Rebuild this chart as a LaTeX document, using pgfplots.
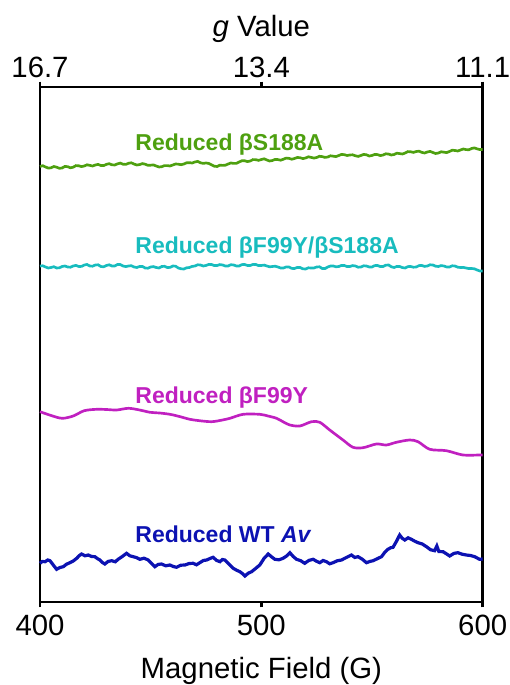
\documentclass[border=0pt]{standalone}
\usepackage{pgfplots}
\pgfplotsset{compat=1.18}
\usepackage{fontspec}
\setmainfont{Liberation Sans}
\definecolor{cgreen}{RGB}{78,160,16}
\definecolor{ccyan}{RGB}{24,188,190}
\definecolor{cmag}{RGB}{192,32,192}
\definecolor{cblue}{RGB}{12,18,178}
\begin{document}
\begin{tikzpicture}
\useasboundingbox (-30pt,-62.25pt) rectangle (352.25pt,451.5pt);
\begin{axis}[
  scale only axis, width=332pt, height=386.25pt,
  xmin=400, xmax=600, ymin=0, ymax=515,
  axis line style={line width=2pt},
  xtick={400,500,600}, ytick=\empty,
  tick align=outside, major tick length=4pt,
  every tick/.style={black, line width=2pt},
  xtick pos=bottom,
  /pgf/number format/assume math mode=true,
  ticklabel style={font=\fontsize{22}{26}\selectfont},
  xticklabel style={anchor=base, yshift=-20.75pt},
  xlabel={Magnetic Field (G)},
  xlabel style={font=\fontsize{22}{26}\selectfont, at={(axis description cs:0.5,0)}, anchor=base, yshift=-57pt},
  clip=false,
]
\addplot[cgreen, line width=2pt] coordinates {
(400,435.5)(401.25,436.3)(402.5,435.0)(403.75,433.9)(405,434.2)(406.25,435.5)(407.5,434.8)(408.75,433.7)(410,434.0)(411.25,435.6)
(412.5,435.3)(413.75,434.2)(415,434.8)(416.25,436.4)(417.5,436.2)(418.75,435.4)(420,436.0)(421.25,437.2)(422.5,436.6)(423.75,436.0)
(425,437.0)(426.25,437.6)(427.5,436.5)(428.75,436.4)(430,437.6)(431.25,438.3)(432.5,437.2)(433.75,437.0)(435,438.1)(436.25,438.9)
(437.5,437.8)(438.75,437.6)(440,438.7)(441.25,439.2)(442.5,437.9)(443.75,437.0)(445,437.4)(446.25,438.4)(447.5,437.8)(448.75,436.7)
(450,436.8)(451.25,437.1)(452.5,436.0)(453.75,435.0)(455,435.3)(456.25,436.4)(457.5,436.4)(458.75,436.0)(460,437.0)(461.25,438.0)
(462.5,437.8)(463.75,437.3)(465,438.0)(466.25,439.2)(467.5,439.3)(468.75,439.0)(470,440.0)(471.25,440.6)(472.5,439.2)(473.75,438.6)
(475,439.0)(476.25,438.6)(477.5,437.2)(478.75,435.8)(480,435.5)(481.25,436.8)(482.5,436.6)(483.75,436.8)(485,438.0)(486.25,439.0)
(487.5,438.6)(488.75,438.6)(490,440.0)(491.25,441.3)(492.5,441.2)(493.75,440.4)(495,441.0)(496.25,442.4)(497.5,442.3)(498.75,441.6)
(500,442.5)(501.25,443.2)(502.5,442.0)(503.75,441.0)(505,441.5)(506.25,442.6)(507.5,442.4)(508.75,441.8)(510,442.8)(511.25,443.9)
(512.5,443.6)(513.75,442.8)(515,443.5)(516.25,444.5)(517.5,444.3)(518.75,443.4)(520,444.0)(521.25,445.2)(522.5,444.6)(523.75,443.9)
(525,444.5)(526.25,445.7)(527.5,445.4)(528.75,444.6)(530,445.0)(531.25,446.2)(532.5,445.8)(533.75,445.4)(535,446.5)(536.25,447.6)
(537.5,447.3)(538.75,446.5)(540,447.0)(541.25,447.2)(542.5,446.2)(543.75,445.6)(545,446.5)(546.25,447.6)(547.5,447.2)(548.75,446.0)
(550,446.5)(551.25,447.6)(552.5,447.4)(553.75,446.4)(555,447.0)(556.25,448.2)(557.5,447.9)(558.75,447.0)(560,447.5)(561.25,448.8)
(562.5,448.4)(563.75,448.0)(565,449.0)(566.25,450.4)(567.5,450.2)(568.75,449.6)(570,450.5)(571.25,450.8)(572.5,449.6)(573.75,449.0)
(575,450.0)(576.25,450.6)(577.5,449.5)(578.75,448.5)(580,449.0)(581.25,450.2)(582.5,449.8)(583.75,449.4)(585,450.5)(586.25,451.8)
(587.5,451.5)(588.75,451.0)(590,452.0)(591.25,453.0)(592.5,452.4)(593.75,452.2)(595,453.5)(596.25,454.1)(597.5,453.1)(598.75,452.4)(600,452.5)
};
\addplot[ccyan, line width=2pt] coordinates {
(400,336)(401.25,336.2)(402.5,335)(403.75,334.0)(405,334.5)(406.25,335.3)(407.5,334)(408.75,334.2)(410,335.5)(411.25,336.0)
(412.5,335)(413.75,334.8)(415,336)(416.25,336.6)(417.5,335.5)(418.75,335.6)(420,337)(421.25,337.5)(422.5,336)(423.75,335.8)
(425,337)(426.25,337.2)(427.5,335.5)(428.75,335.2)(430,336.5)(431.25,337.2)(432.5,336)(433.75,336.0)(435,337.5)(436.25,337.5)
(437.5,336)(438.75,335.4)(440,336)(441.25,336.3)(442.5,335)(443.75,334.5)(445,335.5)(446.25,335.6)(447.5,334)(448.75,333.8)
(450,335)(451.25,335.4)(452.5,334.5)(453.75,334.0)(455,335.5)(456.25,335.7)(457.5,334.5)(458.75,334.6)(460,336)(461.25,335.8)
(462.5,334)(463.75,333.2)(465,333)(466.25,334.2)(467.5,334.5)(468.75,335.6)(470,336)(471.25,337.2)(472.5,337)(473.75,336.0)
(475,336.5)(476.25,337.6)(477.5,337.5)(478.75,336.4)(480,336.5)(481.25,337.4)(482.5,337)(483.75,336.0)(485,336)(486.25,337.3)
(487.5,337)(488.75,336.0)(490,336)(491.25,337.4)(492.5,337.5)(493.75,336.5)(495,336.5)(496.25,337.6)(497.5,337.5)(498.75,336.4)
(500,336.5)(501.25,336.9)(502.5,336)(503.75,335.2)(505,335.5)(506.25,335.8)(507.5,335)(508.75,334.0)(510,334)(511.25,335.1)
(512.5,335)(513.75,333.6)(515,333.5)(516.25,334.6)(517.5,334.5)(518.75,333.2)(520,333)(521.25,334.2)(522.5,334)(523.75,334.0)
(525,335)(526.25,335.2)(527.5,333.5)(528.75,333.4)(530,335)(531.25,336.0)(532.5,336)(533.75,335.2)(535,335.5)(536.25,336.6)
(537.5,336.5)(538.75,335.4)(540,335.5)(541.25,336.4)(542.5,336)(543.75,334.8)(545,335)(546.25,336.2)(547.5,336)(548.75,335.0)
(550,335)(551.25,336.4)(552.5,336.5)(553.75,335.4)(555,335.5)(556.25,336.8)(557.5,337)(558.75,335.2)(560,334.5)(561.25,335.6)
(562.5,335.5)(563.75,334.4)(565,334)(566.25,335.4)(567.5,335.5)(568.75,334.8)(570,335)(571.25,336.4)(572.5,336.5)(573.75,335.6)
(575,336)(576.25,337.2)(577.5,337)(578.75,335.8)(580,335.5)(581.25,336.4)(582.5,336)(583.75,335.0)(585,335)(586.25,336.2)
(587.5,336)(588.75,334.8)(590,334.5)(591.25,334.6)(592.5,334)(593.75,333.4)(595,333.5)(596.25,333.2)(597.5,332)(598.75,331.0)(600,331)
};
\addplot[cmag, line width=2pt, smooth] coordinates {
(400,190.3)(405,186.5)(410,183.7)(415,186)(420,191.3)(425.6,192.7)(430,192.5)(434.6,192)(440,193.7)(445,192)
(449.7,189.7)(454,189)(458.7,187.7)(463,185.5)(467.7,182.7)(472,181.3)(477.5,180.3)(482,181.8)(485.8,183.7)(491.8,187.7)
(499.3,187.7)(503,186)(506.9,183.7)(510,180)(512.9,177)(517.4,176)(522.7,180.3)(526.4,179.7)(530.9,172)(536.9,162)
(541.4,154.7)(546,154.3)(552,158)(556.5,157)(561,159.7)(567,162)(570.8,160.3)(576.1,152.7)(583.6,151.3)(591.1,147)(598.6,147)(600,147)
};
\addplot[cblue, line width=2.4pt] coordinates {
(400,38.7)(401,40.5)(402.3,40.3)(403.5,42)(404.5,41.3)(406,37)(407.5,32.7)(409,34.5)(410.5,35.3)(412,37.8)(413.5,39.3)
(415,41)(416.6,43.7)(417.8,46.5)(418.8,48)(420.3,46.2)(421.8,47)(423.3,45.5)(424.8,45.3)(426,43.3)(427.1,42)(428.2,39.5)
(429.3,38)(430.8,40.6)(432.4,41.3)(434,40.2)(435.3,42.7)(437.2,45.5)(439.1,48.7)(440.6,46.2)(442.1,45.3)(443.6,44.4)(445.1,42.7)
(447,43.8)(448.9,42)(450.4,38.5)(451.9,35.3)(453.4,37.6)(454.9,38)(456.8,36.2)(458.7,37)(460.2,35.5)(461.7,34.7)(463.6,36.8)
(465.5,37)(467.4,38.5)(469.2,38.7)(470.7,37.2)(472.2,39.3)(473.8,41.5)(475.3,42)(476.8,43.5)(478.2,44.7)(479.8,41.6)(481.3,40.3)
(482.4,42.5)(483.5,42)(485.4,37.8)(487.3,33.7)(488.8,31.8)(490.3,30.3)(491.4,28.5)(492.6,26)(494.1,28.8)(495.6,30.3)(497.4,33.5)
(499.3,37)(501.2,43.5)(503.1,48)(504.6,45.2)(506.1,42.7)(508,42.2)(509.8,43.7)(511.4,46)(512.9,49.3)(514.4,45.5)(515.9,42.7)
(517.8,41.3)(519.6,38.7)(521.5,41.6)(523.4,42.7)(524.9,40.8)(526.4,39.3)(527.9,41.5)(529.4,40.3)(530.9,38.2)(532.4,39.3)
(534.3,41.2)(536.2,42)(538.4,44.5)(540.7,47)(542.2,44.6)(543.7,45.3)(545.6,42.8)(547.5,39.3)(549,40.5)(550.5,41.3)(552.4,43.3)
(554.3,45.3)(555.8,49.8)(557.2,52.7)(558.4,54.2)(559.5,54.7)(561,60.5)(562.5,67)(563.6,63.8)(564.8,62)(566.3,64.2)(567.8,62.7)
(569.3,60.8)(570.8,59.3)(572.7,58)(574.6,55.3)(576.5,52.2)(578.3,51.3)(579.3,56)(580.2,50.5)(582.1,50.3)(583.6,48.2)(585.1,46)
(587,48.6)(588.8,49.3)(590.7,47.8)(592.6,47)(594.5,46.5)(596.4,45.3)(597.5,44)(598.6,42.7)(600,43)
};
\node[anchor=base west, font=\fontsize{17.25}{20}\selectfont\bfseries, text=cgreen, inner sep=0pt] at (axis cs:443,451) {Reduced βS188A};
\node[anchor=base west, font=\fontsize{17.25}{20}\selectfont\bfseries, text=ccyan, inner sep=0pt] at (axis cs:443,348.5) {Reduced βF99Y/βS188A};
\node[anchor=base west, font=\fontsize{17.25}{20}\selectfont\bfseries, text=cmag, inner sep=0pt] at (axis cs:443,198) {Reduced βF99Y};
\node[anchor=base west, font=\fontsize{17.25}{20}\selectfont\bfseries, text=cblue, inner sep=0pt] at (axis cs:443,59.3) {Reduced WT \textit{Av}};
\end{axis}
\begin{axis}[
  scale only axis, width=332pt, height=386.25pt,
  xmin=400, xmax=600, ymin=0, ymax=515,
  axis x line*=top, axis y line=none,
  axis line style={line width=2pt},
  xtick={400,500,600}, xticklabels={16.7,13.4,11.1},
  tick align=outside, major tick length=4pt,
  every tick/.style={black, line width=2pt},
  ticklabel style={font=\fontsize{22}{26}\selectfont},
  xticklabel style={anchor=base, yshift=2.75pt},
  xlabel={\textit{g} Value},
  xlabel style={font=\fontsize{22}{26}\selectfont, at={(axis description cs:0.5,1)}, anchor=base, yshift=37.5pt},
  clip=false,
]
\end{axis}
\end{tikzpicture}
\end{document}
